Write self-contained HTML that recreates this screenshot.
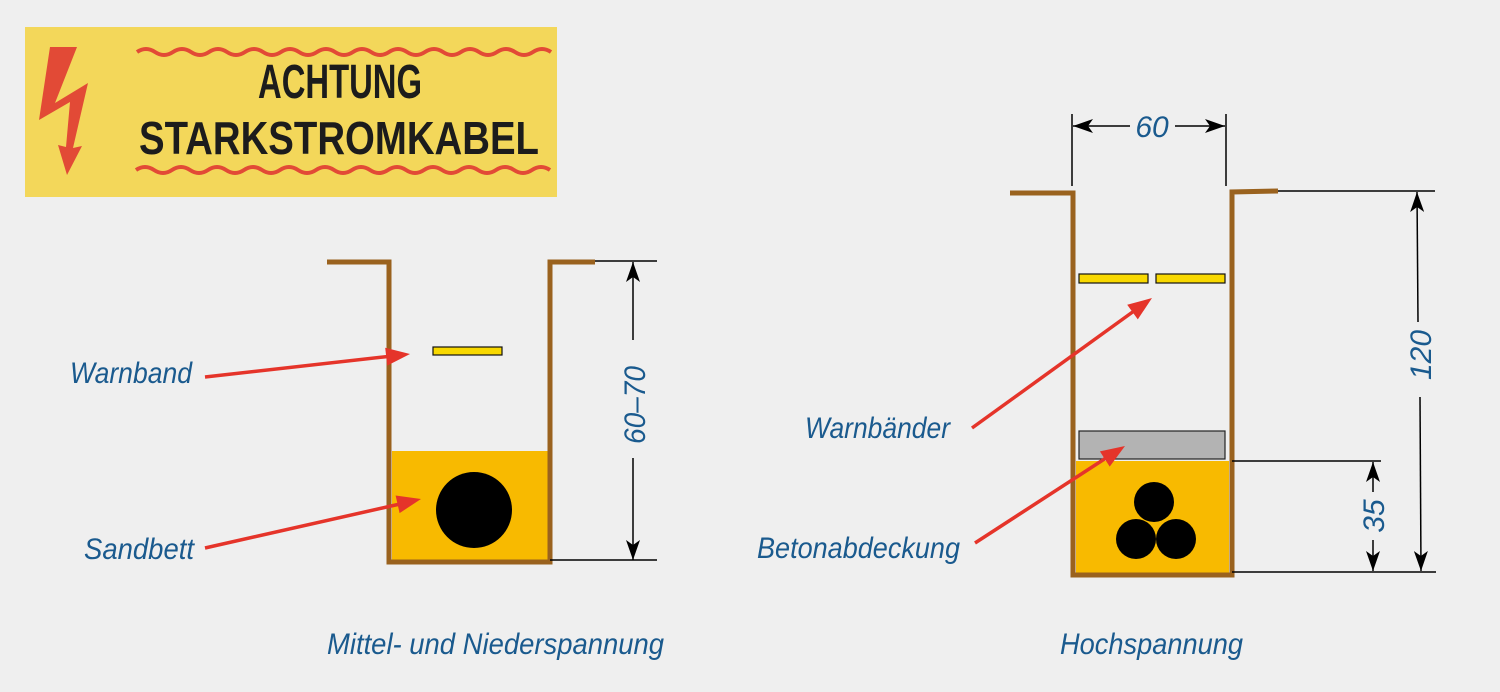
<!DOCTYPE html>
<html><head><meta charset="utf-8"><style>
html,body{margin:0;padding:0;background:#efefef;}
svg{display:block}
.t{font-family:"Liberation Sans",sans-serif;font-style:italic;fill:#1a5a8e;}
</style></head><body>
<svg width="1500" height="692" viewBox="0 0 1500 692" xmlns="http://www.w3.org/2000/svg">
<defs>
<marker id="ka" viewBox="0 0 20 14" markerWidth="20" markerHeight="14" refX="20" refY="7" orient="auto" markerUnits="userSpaceOnUse"><path d="M0,0 L20,7 L0,14 L5,7 Z" fill="#000"/></marker>
</defs>
<rect width="1500" height="692" fill="#efefef"/>
<!-- sign -->
<rect x="25" y="27" width="532" height="170" fill="#f3d75a"/>
<path d="M50,47 L77,47 L55,103 L88,83 L73,148 L82,146 L67,175 L58,145 L66,147 L70,102 L39,120 Z" fill="#e24a36"/>
<path d="M137,52 q9,-6 18,0 t18,0 t18,0 t18,0 t18,0 t18,0 t18,0 t18,0 t18,0 t18,0 t18,0 t18,0 t18,0 t18,0 t18,0 t18,0 t18,0 t18,0 t18,0 t18,0 t18,0 t18,0 t18,0" fill="none" stroke="#e24a36" stroke-width="4"/>
<path d="M136,170 q9,-6 18,0 t18,0 t18,0 t18,0 t18,0 t18,0 t18,0 t18,0 t18,0 t18,0 t18,0 t18,0 t18,0 t18,0 t18,0 t18,0 t18,0 t18,0 t18,0 t18,0 t18,0 t18,0 t18,0" fill="none" stroke="#e24a36" stroke-width="4"/>
<text x="340" y="98" text-anchor="middle" font-family="Liberation Sans,sans-serif" font-weight="bold" font-size="48" fill="#1c1c1c" textLength="164" lengthAdjust="spacingAndGlyphs">ACHTUNG</text>
<text x="139" y="154" font-family="Liberation Sans,sans-serif" font-weight="bold" font-size="46" fill="#1c1c1c" textLength="400" lengthAdjust="spacingAndGlyphs">STARKSTROMKABEL</text>

<!-- left trench -->
<rect x="392" y="451" width="157" height="109" fill="#f8ba00"/>
<circle cx="474" cy="510" r="38" fill="#000"/>
<rect x="433" y="347" width="69" height="8" fill="#f8d800" stroke="#111" stroke-width="1.2"/>
<path d="M327,262 L389,262 L389,562 L550,562 L550,262 L595,262" fill="none" stroke="#9a621e" stroke-width="5"/>
<line x1="595" y1="261" x2="657" y2="261" stroke="#000" stroke-width="1.5"/>
<line x1="550" y1="560" x2="657" y2="560" stroke="#000" stroke-width="1.5"/>
<line x1="633" y1="340" x2="633" y2="262" stroke="#000" stroke-width="1.5" marker-end="url(#ka)"/>
<line x1="633" y1="458" x2="633" y2="560" stroke="#000" stroke-width="1.5" marker-end="url(#ka)"/>
<text class="t" font-size="30" transform="translate(645,405) rotate(-90)" text-anchor="middle" textLength="78" lengthAdjust="spacingAndGlyphs">60–70</text>
<text class="t" x="70" y="383" font-size="30" textLength="122" lengthAdjust="spacingAndGlyphs">Warnband</text>
<text class="t" x="84" y="559" font-size="30" textLength="110" lengthAdjust="spacingAndGlyphs">Sandbett</text>
<text class="t" x="327" y="654" font-size="30" textLength="337" lengthAdjust="spacingAndGlyphs">Mittel- und Niederspannung</text>

<!-- right trench -->
<rect x="1076" y="461" width="153" height="112" fill="#f8ba00"/>
<rect x="1079" y="431" width="146" height="28" fill="#b3b3b3" stroke="#222" stroke-width="1.2"/>
<circle cx="1154" cy="502" r="20" fill="#000"/>
<circle cx="1136" cy="539" r="20" fill="#000"/>
<circle cx="1176" cy="539" r="20" fill="#000"/>
<rect x="1079" y="274" width="69" height="9" fill="#f8d800" stroke="#111" stroke-width="1.2"/>
<rect x="1156" y="274" width="69" height="9" fill="#f8d800" stroke="#111" stroke-width="1.2"/>
<path d="M1010,193 L1073,193 L1073,575 L1232,575 L1232,192 L1278,191" fill="none" stroke="#9a621e" stroke-width="5"/>
<line x1="1072" y1="114" x2="1072" y2="186" stroke="#000" stroke-width="1.5"/>
<line x1="1226" y1="114" x2="1226" y2="186" stroke="#000" stroke-width="1.5"/>
<line x1="1130" y1="126" x2="1073" y2="126" stroke="#000" stroke-width="1.5" marker-end="url(#ka)"/>
<line x1="1175" y1="126" x2="1225" y2="126" stroke="#000" stroke-width="1.5" marker-end="url(#ka)"/>
<text class="t" x="1152" y="137" font-size="30" text-anchor="middle">60</text>
<line x1="1278" y1="191" x2="1435" y2="191" stroke="#000" stroke-width="1.5"/>
<line x1="1232" y1="572" x2="1436" y2="572" stroke="#000" stroke-width="1.5"/>
<line x1="1232" y1="461" x2="1381" y2="461" stroke="#000" stroke-width="1.5"/>
<line x1="1418" y1="322" x2="1417" y2="192" stroke="#000" stroke-width="1.5" marker-end="url(#ka)"/>
<line x1="1420" y1="397" x2="1421" y2="571" stroke="#000" stroke-width="1.5" marker-end="url(#ka)"/>
<text class="t" font-size="30" transform="translate(1431,355) rotate(-90)" text-anchor="middle">120</text>
<line x1="1373" y1="492" x2="1373" y2="462" stroke="#000" stroke-width="1.5" marker-end="url(#ka)"/>
<line x1="1373" y1="540" x2="1373" y2="571" stroke="#000" stroke-width="1.5" marker-end="url(#ka)"/>
<text class="t" font-size="30" transform="translate(1384,516) rotate(-90)" text-anchor="middle">35</text>
<text class="t" x="805" y="438" font-size="30" textLength="145" lengthAdjust="spacingAndGlyphs">Warnbänder</text>
<text class="t" x="757" y="558" font-size="30" textLength="203" lengthAdjust="spacingAndGlyphs">Betonabdeckung</text>
<text class="t" x="1060" y="654" font-size="30" textLength="183" lengthAdjust="spacingAndGlyphs">Hochspannung</text>

<!-- red arrows on top -->
<g stroke="#e5342a" stroke-width="3.5" fill="none">
<line x1="205" y1="377" x2="388" y2="356.5"/>
<line x1="205" y1="548" x2="400" y2="504"/>
<line x1="972" y1="428" x2="1134" y2="311"/>
<line x1="975" y1="543" x2="1106" y2="458"/>
</g>
<g fill="#e5342a">
<polygon points="410,354 387.2,365.6 385.2,347.8"/>
<polygon points="421,499 399.6,513.1 395.6,495.5"/>
<polygon points="1152,298 1137.8,319.4 1127.2,304.8"/>
<polygon points="1125,446 1109.7,466.6 1099.9,451.4"/>
</g>
</svg>
</body></html>
